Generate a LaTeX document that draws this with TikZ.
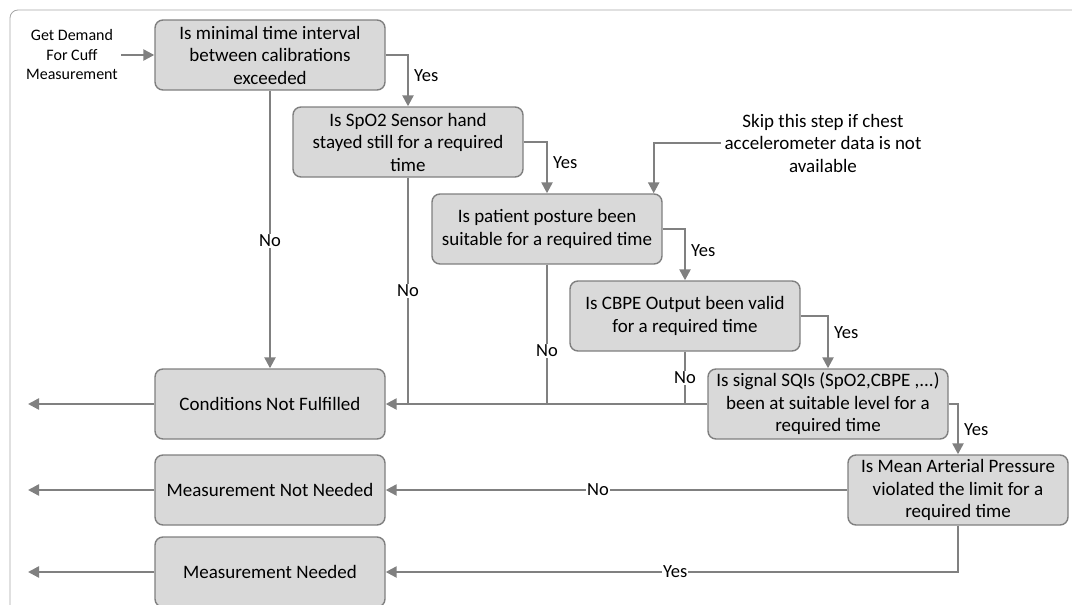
\documentclass[tikz,border=0pt]{standalone}
\usepackage{fontspec}
\setmainfont{Carlito}
\usetikzlibrary{arrows.meta}
\definecolor{boxfill}{HTML}{D9D9D9}
\definecolor{boxline}{HTML}{7F7F7F}
\definecolor{flow}{HTML}{808080}
\definecolor{framegray}{HTML}{A6A6A6}
\begin{document}
\begin{tikzpicture}[x=1pt,y=-1pt,
    decision/.style={draw=boxline,line width=1.4pt,fill=boxfill,rounded corners=8pt,
      minimum width=230pt,minimum height=70pt,align=center,inner sep=2pt,
      font=\fontsize{19}{22.5}\selectfont},
    flowline/.style={draw=flow,line width=2.4pt},
    flowarrow/.style={flowline,-{Triangle[length=11pt,width=11pt]}},
    answer/.style={font=\fontsize{18.5}{22}\selectfont,inner sep=1pt},
    sideanswer/.style={answer,right,xshift=4pt},
    onwire/.style={answer,fill=white}]
                 \useasboundingbox (0,0) rectangle (1072,605);
                 \draw[framegray,line width=0.8pt,rounded corners=8pt] (10,612) -- (10,10) -- (1080,10);
                 \node[font=\fontsize{16}{19.5}\selectfont,align=center] (start) at (72,55) {Get Demand\\For Cuff\\Measurement};
                 \node[font=\fontsize{19}{22.5}\selectfont,align=center] (skip) at (823,143) {Skip this step if chest\\accelerometer data is not\\available};
                 \node[decision] (q1) at (270,55) {Is minimal time interval\\between calibrations\\exceeded};
                 \node[decision] (q2) at (408,142) {Is SpO2 Sensor hand\\stayed still for a required\\time};
                 \node[decision] (q3) at (547,229) {Is patient posture been\\suitable for a required time};
                 \node[decision] (q4) at (685,316) {Is CBPE Output been valid\\for a required time};
                 \node[decision,minimum width=240pt] (q5) at (828,404) {Is signal SQIs (SpO2,CBPE ,...)\\been at suitable level for a\\required time};
                 \node[decision,minimum width=220pt] (q6) at (958,490) {Is Mean Arterial Pressure\\violated the limit for a\\required time};
                 \node[decision] (cnf) at (270,404) {Conditions Not Fulfilled};
                 \node[decision] (mnn) at (270,490) {Measurement Not Needed};
                 \node[decision] (mn) at (270,572) {Measurement Needed};
                 \coordinate (exit1) at (28,404);
                 \coordinate (exit2) at (28,490);
                 \coordinate (exit3) at (28,572);
                 \draw[flowarrow] (start) -- (q1);
                 \draw[flowarrow] (q1.east) -| node[sideanswer,pos=0.7] {Yes} (q2.north);
                 \draw[flowarrow] (q2.east) -| node[sideanswer,pos=0.7] {Yes} (q3.north);
                 \draw[flowarrow] (q3.east) -| node[sideanswer,pos=0.71] {Yes} (q4.north);
                 \draw[flowarrow] (q4.east) -| node[sideanswer,pos=0.66] {Yes} (q5.north);
                 \draw[flowarrow] (q5.east) -| node[sideanswer,pos=0.75] {Yes} (q6.north);
                 \draw[flowarrow] (skip.west) -| ([xshift=-9pt]q3.north east);
                 \draw[flowarrow] (q1) -- node[onwire,pos=0.54] {No} (cnf);
                 \draw[flowline] (q2) -- node[onwire] {No} (q2 |- cnf.east);
                 \draw[flowline] (q3) -- node[onwire,pos=0.62] {No} (q3 |- cnf.east);
                 \draw[flowline] (q4) -- node[onwire] {No} (q4 |- cnf.east);
                 \draw[flowarrow] (q5.west) -- (cnf.east);
                 \draw[flowarrow] (q6.west) -- node[onwire,pos=0.54] {No} (mnn.east);
                 \draw[flowarrow] (q6.south) |- node[onwire,pos=0.747] {Yes} (mn.east);
                 \draw[flowarrow] (cnf) -- (exit1);
                 \draw[flowarrow] (mnn) -- (exit2);
                 \draw[flowarrow] (mn) -- (exit3);
                \end{tikzpicture}
\end{document}
